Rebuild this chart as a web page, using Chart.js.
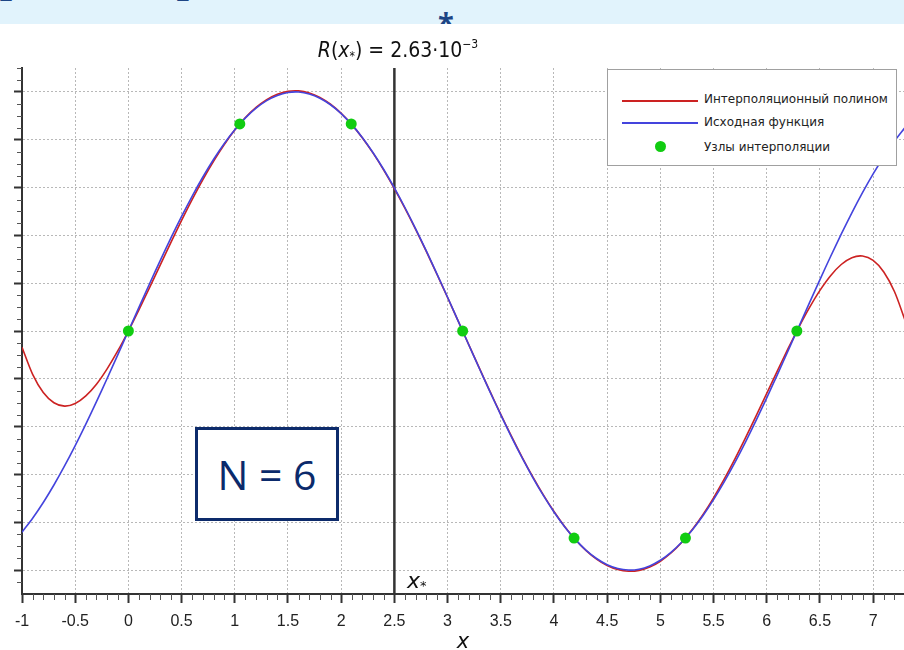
<!DOCTYPE html>
<html><head><meta charset="utf-8">
<script src="https://cdn.jsdelivr.net/npm/chart.js@4.4.1/dist/chart.umd.min.js"></script>
<style>
html,body{margin:0;padding:0;background:#fff;}
#wrap{position:relative;width:904px;height:650px;overflow:hidden;background:#fff;}
#c{position:absolute;left:0;top:0;}
.band{position:absolute;left:0;top:0;width:904px;height:24px;background:#e1f3fc;overflow:hidden;}
.band span{position:absolute;color:#1d4585;font-family:'Open Sans',sans-serif;font-weight:bold;line-height:1;font-size:48px;top:-48px;}
#title{position:absolute;left:0;width:796px;top:31px;text-align:center;font-family:'Liberation Sans Narrow','DejaVu Sans Condensed',sans-serif;font-size:21px;line-height:26px;color:#111;}
#title sub{font-size:12px;vertical-align:-3px;}
#title sup{font-size:12px;vertical-align:9px;}
#nbox{position:absolute;left:195px;top:427px;width:138px;height:88px;border:3px solid #0d2b6b;background:#fff;font-family:'Open Sans',sans-serif;font-size:41px;color:#0b2a6b;text-align:center;line-height:88px;}
#xstar{position:absolute;left:407px;top:568px;font-family:'DejaVu Sans',sans-serif;font-style:italic;font-size:22px;line-height:26px;color:#111;}
#xstar sub{font-style:normal;font-size:13px;vertical-align:-2px;}
#legend{position:absolute;left:607px;top:69px;width:288px;height:95px;border:1px solid #a0a0a0;background:#fff;font-family:'DejaVu Sans',sans-serif;font-size:12px;color:#222;}
#legend .sw{position:absolute;left:14px;width:76px;height:2px;}
#legend .dot{position:absolute;left:47px;width:11px;height:11px;border-radius:50%;background:#11cc11;}
#legend .tx{position:absolute;left:96px;line-height:16px;white-space:nowrap;}
</style></head>
<body>
<div id="wrap">
<canvas id="c" width="904" height="650"></canvas>
<div class="band"><span style="left:-3px">[</span><span style="left:55px">,</span><span style="left:176px">]</span><span style="left:200px">,</span><span style="left:438px;font-size:29px;top:8px;">*</span></div>
<div id="title"><i>R</i>(<i>x</i><sub>*</sub>) = 2.63·10<sup>−3</sup></div>
<div id="nbox">N = 6</div>
<div id="xstar">x<sub>*</sub></div>
<div id="legend">
  <div class="sw" style="top:30px;background:#cc2222"></div><div class="tx" style="top:21px">Интерполяционный полином</div>
  <div class="sw" style="top:52px;background:#4444dd"></div><div class="tx" style="top:44px">Исходная функция</div>
  <div class="dot" style="top:71px"></div><div class="tx" style="top:69px">Узлы интерполяции</div>
</div>
</div>
<script>
const xGrid = [-1.0,-0.9,-0.8,-0.7,-0.6,-0.5,-0.4,-0.3,-0.2,-0.1,0.0,0.1,0.2,0.3,0.4,0.5,0.6,0.7,0.8,0.9,1.0,1.1,1.2,1.3,1.4,1.5,1.6,1.7,1.8,1.9,2.0,2.1,2.2,2.3,2.4,2.5,2.6,2.7,2.8,2.9,3.0,3.1,3.2,3.3,3.4,3.5,3.6,3.7,3.8,3.9,4.0,4.1,4.2,4.3,4.4,4.5,4.6,4.7,4.8,4.9,5.0,5.1,5.2,5.3,5.4,5.5,5.6,5.7,5.8,5.9,6.0,6.1,6.2,6.3,6.4,6.5,6.6,6.7,6.8,6.9,7.0,7.1,7.2,7.3];
const sinY = [-0.8415,-0.7833,-0.7174,-0.6442,-0.5646,-0.4794,-0.3894,-0.2955,-0.1987,-0.0998,0,0.0998,0.1987,0.2955,0.3894,0.4794,0.5646,0.6442,0.7174,0.7833,0.8415,0.8912,0.9320,0.9636,0.9854,0.9975,0.9996,0.9917,0.9738,0.9463,0.9093,0.8632,0.8085,0.7457,0.6755,0.5985,0.5155,0.4274,0.3350,0.2392,0.1411,0.0416,-0.0584,-0.1577,-0.2555,-0.3508,-0.4425,-0.5298,-0.6119,-0.6878,-0.7568,-0.8183,-0.8716,-0.9162,-0.9516,-0.9775,-0.9937,-0.9999,-0.9962,-0.9825,-0.9589,-0.9258,-0.8835,-0.8323,-0.7728,-0.7055,-0.6313,-0.5507,-0.4646,-0.3739,-0.2794,-0.1822,-0.0831,0.0168,0.1165,0.2151,0.3115,0.4048,0.4941,0.5784,0.6570,0.7290,0.7937,0.8509];
const polyY = [-0.0680,-0.1814,-0.2573,-0.3000,-0.3141,-0.3033,-0.2715,-0.2227,-0.1584,-0.0835,0,0.0894,0.1824,0.2768,0.3708,0.4626,0.5506,0.6335,0.7101,0.7793,0.8403,0.8924,0.9350,0.9677,0.9902,1.0024,1.0042,0.9956,0.9769,0.9484,0.9103,0.8632,0.8075,0.7440,0.6732,0.5958,0.5128,0.4248,0.3328,0.2375,0.1401,0.0413,-0.0579,-0.1566,-0.2537,-0.3485,-0.4399,-0.5271,-0.6093,-0.6855,-0.7552,-0.8174,-0.8717,-0.9173,-0.9538,-0.9808,-0.9978,-1.0046,-1.0011,-0.9872,-0.9629,-0.9285,-0.8843,-0.8306,-0.7682,-0.6977,-0.6200,-0.5361,-0.4474,-0.3551,-0.2609,-0.1666,-0.0741,0.0145,0.0967,0.1700,0.2315,0.2781,0.3067,0.3135,0.2950,0.2469,0.1651,0.0449];
const nodeX = [0, 1.0472, 2.0944, 3.1416, 4.1888, 5.2360, 6.2832];
const nodeY = [0, 0.8660, 0.8660, 0, -0.8660, -0.8660, 0];
const xStar = 2.5;
const xTicks = [-1,-0.5,0,0.5,1,1.5,2,2.5,3,3.5,4,4.5,5,5.5,6,6.5,7];
const yTicks = [-1,-0.8,-0.6,-0.4,-0.2,0,0.2,0.4,0.6,0.8,1];
const xMin = -1, xMax = 7.29, yMin = -1.1, yMax = 1.1;

const pts = (xs, ys) => xs.map((x, i) => ({x: x, y: ys[i]}));

const minorTicks = {
  id: 'minorTicks',
  afterDraw(chart) {
    const {ctx, chartArea, scales: {x, y}} = chart;
    ctx.save();
    ctx.strokeStyle = '#555';
    ctx.lineWidth = 1;
    ctx.beginPath();
    for (let i = -10; i <= 72; i++) {
      if (i % 5 === 0) continue;
      const px = Math.round(x.getPixelForValue(i / 10)) + 0.5;
      ctx.moveTo(px, chartArea.bottom);
      ctx.lineTo(px, chartArea.bottom + 6);
    }
    for (let i = -22; i <= 22; i++) {
      if (i % 4 === 0 && Math.abs(i) <= 20) continue;
      if (i === -22) continue;
      const py = Math.round(y.getPixelForValue(i * 0.05)) + 0.5;
      ctx.moveTo(chartArea.left - 5, py);
      ctx.lineTo(chartArea.left, py);
    }
    ctx.stroke();
    ctx.restore();
  }
};

const gridCommon = {color: '#b8b8b8', lineWidth: 1, tickColor: '#333', tickWidth: 2};

new Chart(document.getElementById('c'), {
  type: 'line',
  data: {
    datasets: [
      {label: 'Узлы интерполяции', data: pts(nodeX, nodeY), showLine: false, pointRadius: 5.5, pointBackgroundColor: '#11cc11', pointBorderWidth: 0, order: 0},
      {label: 'Исходная функция', data: pts(xGrid, sinY), borderColor: '#4444dd', borderWidth: 1.6, pointRadius: 0, tension: 0.3, order: 1},
      {label: 'Интерполяционный полином', data: pts(xGrid, polyY), borderColor: '#cc2222', borderWidth: 1.6, pointRadius: 0, tension: 0.3, order: 2},
      {label: 'x*', data: [{x: xStar, y: yMin}, {x: xStar, y: yMax}], borderColor: '#333', borderWidth: 2.5, pointRadius: 0, order: 3}
    ]
  },
  options: {
    responsive: false,
    animation: false,
    layout: {autoPadding: false, padding: {top: 68, left: 0, right: 0, bottom: 0}},
    plugins: {legend: {display: false}, tooltip: {enabled: false}, title: {display: false}},
    scales: {
      x: {
        type: 'linear', min: xMin, max: xMax,
        afterBuildTicks: s => { s.ticks = xTicks.map(v => ({value: v})); },
        afterFit: s => { s.height = 56; s.paddingLeft = 0; s.paddingRight = 0; },
        grid: Object.assign({tickLength: 9}, gridCommon),
        border: {display: true, color: '#333', width: 2, dash: [2, 2]},
        ticks: {autoSkip: false, maxRotation: 0, padding: 9, color: '#222', font: {family: 'Liberation Sans', size: 16}, callback: v => String(v)},
        title: {display: true, text: 'x', color: '#111', padding: 0, font: {family: 'DejaVu Sans', style: 'italic', size: 21, lineHeight: 0.7}}
      },
      y: {
        type: 'linear', min: yMin, max: yMax,
        afterBuildTicks: s => { s.ticks = yTicks.map(v => ({value: v})); },
        afterFit: s => { s.width = 22; },
        grid: Object.assign({tickLength: 8}, gridCommon),
        border: {display: true, color: '#333', width: 2, dash: [2, 2]},
        ticks: {display: false}
      }
    }
  },
  plugins: [minorTicks]
});
</script>
</body></html>
